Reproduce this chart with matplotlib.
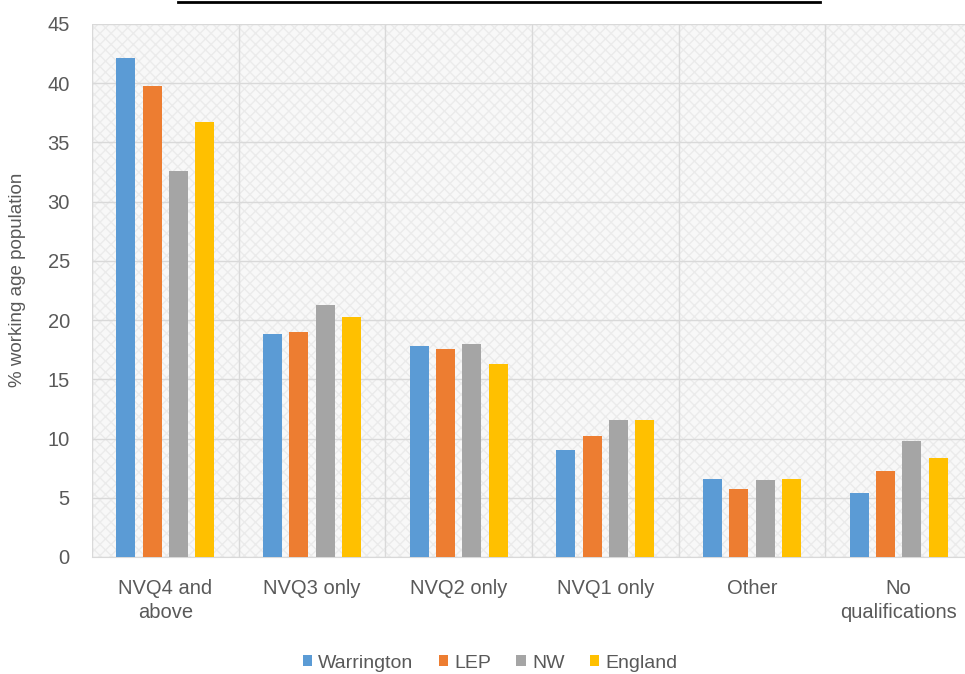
import numpy as np
import matplotlib
matplotlib.use("Agg")
import matplotlib.pyplot as plt
from matplotlib.lines import Line2D
from matplotlib.patches import Rectangle

categories = ["NVQ4 and\nabove", "NVQ3 only", "NVQ2 only", "NVQ1 only", "Other", "No\nqualifications"]
series_names = ["Warrington", "LEP", "NW", "England"]
warrington = [42.1, 18.8, 17.8, 9.0, 6.6, 5.4]
lep = [39.8, 19.0, 17.6, 10.2, 5.7, 7.3]
nw = [32.6, 21.3, 18.0, 11.6, 6.5, 9.8]
england = [36.7, 20.3, 16.3, 11.6, 6.6, 8.4]
y_ticks = [0, 5, 10, 15, 20, 25, 30, 35, 40, 45]

COLORS = ["#5B9BD5", "#ED7D31", "#A5A5A5", "#FFC000"]
TEXT = "#595959"

plt.rcParams["font.family"] = ["Liberation Sans", "DejaVu Sans"]

fig = plt.figure(figsize=(9.65, 6.74), dpi=100)
ax = fig.add_axes([92 / 965, 117 / 674, 880 / 965, 533 / 674])
ax.set_facecolor("#f8f8f8")
# faint texture like the source image background
ax.add_patch(Rectangle((0, 0), 1, 1, transform=ax.transAxes, facecolor="none",
                       edgecolor="#ebebeb", hatch="xxx", linewidth=0, zorder=0))

x = np.arange(len(categories))
width = 0.13
step = 0.18
all_series = [warrington, lep, nw, england]
for i, (name, vals) in enumerate(zip(series_names, all_series)):
    ax.bar(x + (i - 1.5) * step, vals, width, color=COLORS[i], label=name, zorder=3)

ax.set_xlim(-0.5, len(categories) - 0.5)
ax.set_ylim(0, 45)
ax.set_yticks(y_ticks)
ax.set_xticks(x)
ax.set_xticklabels(categories, linespacing=1.35)
ax.set_xticks(np.arange(-0.5, len(categories), 1), minor=True)

ax.grid(axis="y", which="major", color="#d9d9d9", linewidth=1, zorder=1)
ax.grid(axis="x", which="minor", color="#d9d9d9", linewidth=1, zorder=1)
ax.tick_params(axis="both", which="both", length=0, colors=TEXT, labelsize=14.5)
ax.tick_params(axis="x", pad=16)
ax.tick_params(axis="y", pad=16)

for side in ["top", "right", "left"]:
    ax.spines[side].set_visible(False)
ax.spines["bottom"].set_color("#d9d9d9")

fig.text(18 / 965, 1 - 280 / 674, "% working age population", rotation=90,
         ha="center", va="center", fontsize=13.5, color=TEXT)

fig.legend(loc="center", bbox_to_anchor=(490 / 965, 1 - 663 / 674), ncol=4,
           frameon=False, fontsize=14, labelcolor=TEXT, handlelength=0.5,
           handleheight=0.5, handletextpad=0.3, columnspacing=1.3)

fig.add_artist(Line2D([178 / 965, 820 / 965], [1 - 2 / 674, 1 - 2 / 674],
                      color="black", linewidth=2))

fig.savefig("out.png", dpi=100)
